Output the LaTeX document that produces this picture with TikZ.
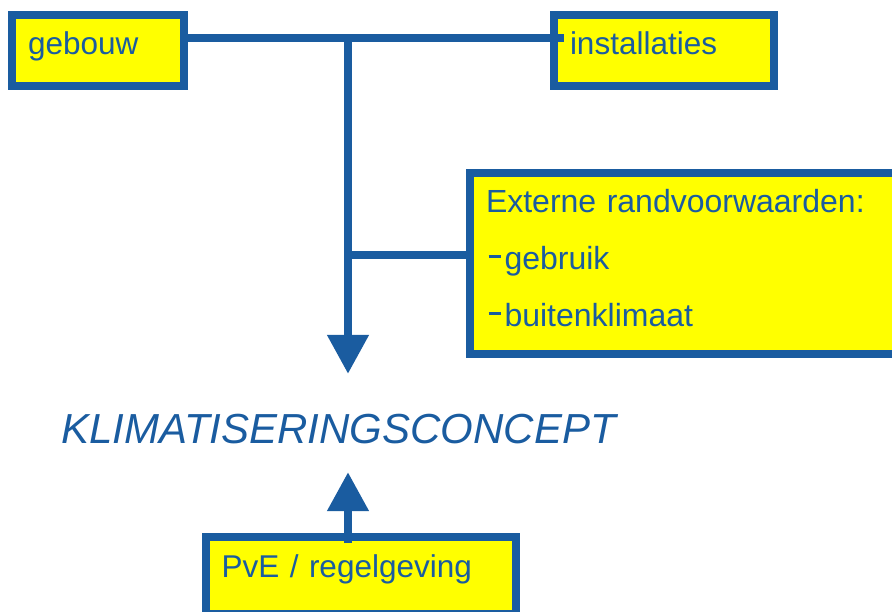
\documentclass[tikz,border=0pt]{standalone}
\usepackage{fontspec}
\setmainfont{Liberation Sans}
\usepackage{tikz}
\usetikzlibrary{arrows.meta}
\usepackage{xcolor}
\definecolor{kblauw}{HTML}{1A5CA0}
\definecolor{kgeel}{HTML}{FFFF00}
\newcommand{\randstreep}{\hspace*{2.5pt}\rule[12pt]{12pt}{3pt}\hspace{4pt}}

\begin{document}
\begin{tikzpicture}[x=1pt,y=-1pt,
        kader/.style={draw=kblauw, fill=kgeel, line width=8pt, outer sep=0pt, inner xsep=16pt, inner ysep=0pt,
                anchor=north west, align=left, text=kblauw, font=\fontsize{31.5}{38}\selectfont},
        lijn/.style={draw=kblauw, line width=8pt},
        pijl/.style={lijn, -{Triangle[width=40pt,length=39pt]}}]
        \useasboundingbox (0,0) rectangle (892,612);
        \clip (0,0) rectangle (892,612);

        % boxes
        \node[kader, text width=140pt, text height=39.5pt, text depth=31.5pt] (gebouw) at (12,15) {gebouw};
        \node[kader, text width=188pt, text height=39.5pt, text depth=31.5pt] (installaties) at (554,15) {installaties};
        \node[kader, text width=398pt, text height=40pt, text depth=141.5pt] (externe) at (470,173)
                {\fontsize{32}{57}\selectfont\begin{tabular}[t]{@{}l@{}}
                 Externe randvoorwaarden:\\
                 \randstreep gebruik\\
                 \randstreep buitenklimaat
                 \end{tabular}};
        \node[kader, text width=278.5pt, text height=40pt, text depth=37pt] (pve) at (205.5,537) {PvE / regelgeving};

        \node[anchor=base west, inner sep=0pt, text height=30pt, text depth=0pt, text=kblauw,
                font=\fontsize{42}{50}\selectfont\itshape] (concept) at (61,443) {KLIMATISERINGSCONCEPT};

        \coordinate (knoop) at (348,38.5);
        \coordinate (tak) at (348,255);

        % lines and arrows
        \draw[lijn, shorten <=-4pt, shorten >=-10pt] (gebouw.east |- knoop) -- (installaties.west |- knoop);
        \draw[pijl, shorten >=39pt] (knoop) -- (knoop |- concept.north);
        \draw[lijn] (tak) -- (tak -| externe.west);
        \draw[pijl, shorten <=-6pt, shorten >=29pt] (knoop |- pve.north) -- (knoop |- concept.south);
\end{tikzpicture}
\end{document}
